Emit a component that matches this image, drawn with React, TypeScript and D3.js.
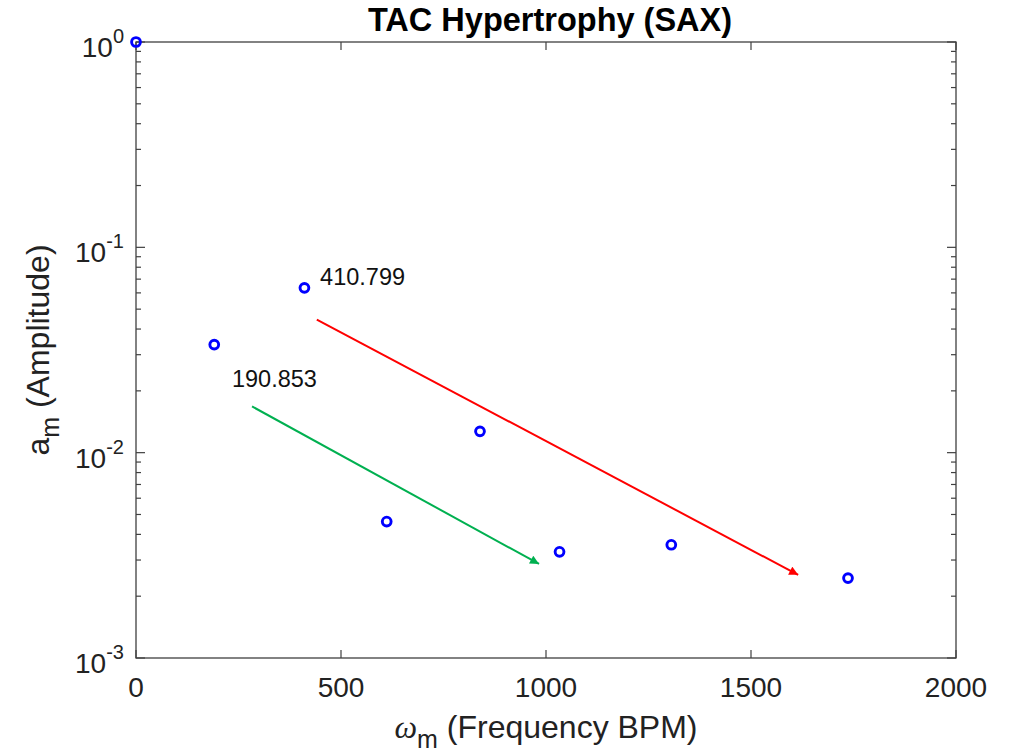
import { useEffect, useRef } from "react";
import * as d3 from "d3";

// data
const freqs = [0, 190.853, 410.799, 611.5, 839, 1033, 1305.6, 1736.6];
const amps = [1, 0.0336, 0.0635, 0.00462, 0.0127, 0.00329, 0.00356, 0.00245];

const xTicks = [0, 500, 1000, 1500, 2000];
const yDecades = [0, -1, -2, -3];

// annotations: [x, y, text]
const labelX = [449, 234];
const labelY = [0.0659, 0.021];
const labelText = ["410.799", "190.853"];

// trend arrows: start/end in data units
const arrowX0 = [441, 283];
const arrowY0 = [0.0445, 0.0168];
const arrowX1 = [1615, 983];
const arrowY1 = [0.00254, 0.00287];
const arrowColors = ["#ff0000", "#00b050"];

const W = 1020;
const H = 755;
const margin = { left: 136, right: 64, top: 42, bottom: 97 };
const FONT = "'Liberation Sans', Arial, sans-serif";

export default function App() {
  const ref = useRef<SVGSVGElement>(null);

  useEffect(() => {
    if (!ref.current) return;
    const svg = d3.select(ref.current);
    svg.selectAll("*").remove();

    const x = d3.scaleLinear().domain([0, 2000]).range([margin.left, W - margin.right]);
    const y = d3.scaleLog().domain([1e-3, 1]).range([H - margin.bottom, margin.top]);
    const x0 = x.range()[0], x1 = x.range()[1];
    const y0 = y.range()[0], y1 = y.range()[1];
    const axisColor = "#404040";

    svg.append("rect").attr("width", W).attr("height", H).attr("fill", "white");

    // arrow markers
    const defs = svg.append("defs");
    arrowColors.forEach((c, i) => {
      defs
        .append("marker")
        .attr("id", "arr" + i)
        .attr("viewBox", "0 0 10 10")
        .attr("refX", 10)
        .attr("refY", 5)
        .attr("markerWidth", 5)
        .attr("markerHeight", 4.5)
        .attr("markerUnits", "strokeWidth")
        .attr("orient", "auto")
        .append("path")
        .attr("d", "M0,0 L10,5 L0,10 Z")
        .attr("fill", c);
    });

    // box
    svg
      .append("rect")
      .attr("x", x0)
      .attr("y", y1)
      .attr("width", x1 - x0)
      .attr("height", y0 - y1)
      .attr("fill", "none")
      .attr("stroke", axisColor)
      .attr("stroke-width", 1.3);

    // x ticks (bottom and top)
    xTicks.forEach((t) => {
      svg.append("line").attr("x1", x(t)).attr("x2", x(t)).attr("y1", y0).attr("y2", y0 - 8)
        .attr("stroke", axisColor).attr("stroke-width", 1.2);
      svg.append("line").attr("x1", x(t)).attr("x2", x(t)).attr("y1", y1).attr("y2", y1 + 8)
        .attr("stroke", axisColor).attr("stroke-width", 1.2);
      svg
        .append("text")
        .attr("x", x(t))
        .attr("y", y0 + 39)
        .attr("text-anchor", "middle")
        .attr("font-family", FONT)
        .attr("font-size", 28)
        .attr("fill", "#222")
        .text(t.toString());
    });

    // y ticks: majors + minors on both sides
    yDecades.forEach((e) => {
      const v = Math.pow(10, e);
      [x0, x1].forEach((xs, side) => {
        const dir = side === 0 ? 1 : -1;
        svg.append("line").attr("x1", xs).attr("x2", xs + dir * 9).attr("y1", y(v)).attr("y2", y(v))
          .attr("stroke", axisColor).attr("stroke-width", 1.2);
        if (e > -3) {
          for (let m = 2; m <= 9; m++) {
            const vm = (m * v) / 10;
            svg.append("line").attr("x1", xs).attr("x2", xs + dir * 5).attr("y1", y(vm)).attr("y2", y(vm))
              .attr("stroke", axisColor).attr("stroke-width", 1.2);
          }
        }
      });
      const txt = svg
        .append("text")
        .attr("x", x0 - 12)
        .attr("y", y(v) + 15)
        .attr("text-anchor", "end")
        .attr("font-family", FONT)
        .attr("font-size", 28)
        .attr("fill", "#222");
      txt.append("tspan").text("10");
      txt.append("tspan").attr("dy", -14).attr("font-size", 20).text(e.toString());
    });

    // arrows
    arrowColors.forEach((c, i) => {
      svg
        .append("line")
        .attr("x1", x(arrowX0[i]))
        .attr("y1", y(arrowY0[i]))
        .attr("x2", x(arrowX1[i]))
        .attr("y2", y(arrowY1[i]))
        .attr("stroke", c)
        .attr("stroke-width", 2)
        .attr("marker-end", `url(#arr${i})`);
    });

    // points
    svg
      .selectAll("circle.pt")
      .data(freqs)
      .enter()
      .append("circle")
      .attr("class", "pt")
      .attr("cx", (d) => x(d))
      .attr("cy", (_d, i) => y(amps[i]))
      .attr("r", 4.4)
      .attr("fill", "none")
      .attr("stroke", "#0000ff")
      .attr("stroke-width", 2.9);

    // annotation labels
    labelText.forEach((t, i) => {
      svg
        .append("text")
        .attr("x", x(labelX[i]))
        .attr("y", y(labelY[i]))
        .attr("font-family", FONT)
        .attr("font-size", 23.5)
        .attr("fill", "#111")
        .text(t);
    });

    // title
    svg
      .append("text")
      .attr("x", 550)
      .attr("y", 31)
      .attr("text-anchor", "middle")
      .attr("font-family", FONT)
      .attr("font-weight", "bold")
      .attr("font-size", 32.5)
      .attr("fill", "#000")
      .text("TAC Hypertrophy (SAX)");

    // x label
    const xl = svg
      .append("text")
      .attr("x", (x0 + x1) / 2)
      .attr("y", 738)
      .attr("text-anchor", "middle")
      .attr("font-family", FONT)
      .attr("font-size", 32)
      .attr("fill", "#222");
    xl.append("tspan").attr("font-family", "'Liberation Serif', serif").attr("font-style", "italic").text("ω");
    xl.append("tspan").attr("dy", 10).attr("font-size", 25).text("m");
    xl.append("tspan").attr("dy", -10).text(" (Frequency BPM)");

    // y label
    const yl = svg
      .append("text")
      .attr("transform", `translate(49,${(y0 + y1) / 2}) rotate(-90)`)
      .attr("text-anchor", "middle")
      .attr("font-family", FONT)
      .attr("font-size", 32)
      .attr("fill", "#222");
    yl.append("tspan").text("a");
    yl.append("tspan").attr("dy", 10).attr("font-size", 25).text("m");
    yl.append("tspan").attr("dy", -10).text(" (Amplitude)");
  }, []);

  return (
    <svg
      ref={ref}
      width={W}
      height={H}
      style={{ position: "absolute", left: 0, top: 0, display: "block" }}
    />
  );
}
